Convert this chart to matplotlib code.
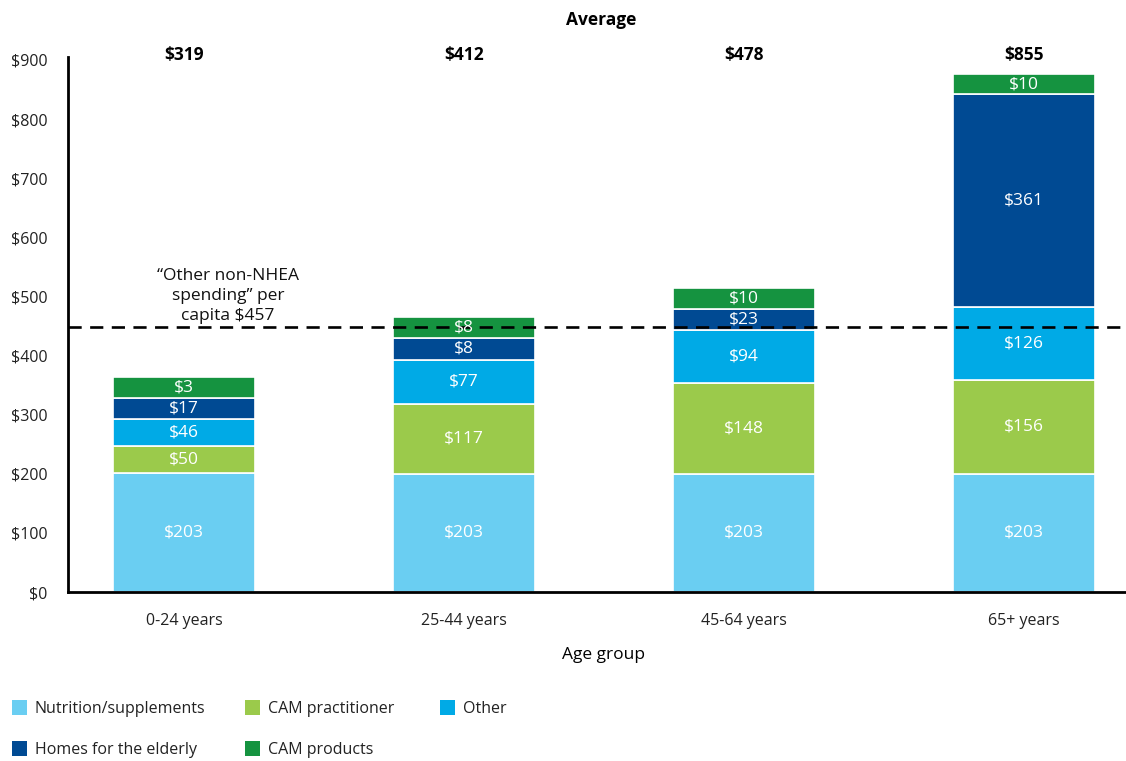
import matplotlib
matplotlib.use("Agg")
import matplotlib.pyplot as plt
from matplotlib.patches import Rectangle
import numpy as np

plt.rcParams['font.family'] = ['Open Sans', 'DejaVu Sans']

categories = ["0-24 years", "25-44 years", "45-64 years", "65+ years"]
averages = ["$319", "$412", "$478", "$855"]
series_names = ["Nutrition/supplements", "CAM practitioner", "Other",
                "Homes for the elderly", "CAM products"]
colors = ["#6ACEF2", "#9BCA4B", "#00AAE6", "#004A93", "#159340"]

# value labels printed in each segment
nutrition_lbl = [203, 203, 203, 203]
practitioner_lbl = [50, 117, 148, 156]
other_lbl = [46, 77, 94, 126]
homes_lbl = [17, 8, 23, 361]
products_lbl = [3, 8, 10, 10]

# segment heights as drawn in the chart
nutrition_h = [201, 200, 200, 200]
practitioner_h = [46, 118, 153, 159]
other_h = [46, 75, 90, 123]
homes_h = [36, 37, 36, 360]
products_h = [35, 35, 36, 34]

ref_line = 449
ref_text = "\u201cOther non-NHEA\nspending\u201d per\ncapita $457"

yticks = [0, 100, 200, 300, 400, 500, 600, 700, 800, 900]

W, H = 1126, 761
fig = plt.figure(figsize=(W / 100, H / 100), dpi=100)

def fx(px):
    return px / W

def fy(py):
    return 1 - py / H

ax = fig.add_axes([fx(68), fy(592), fx(1126) - fx(68), fy(57) - fy(592)])

x = np.arange(len(categories))
heights = [nutrition_h, practitioner_h, other_h, homes_h, products_h]
labels = [nutrition_lbl, practitioner_lbl, other_lbl, homes_lbl, products_lbl]
bottom = np.zeros(len(categories))
for h, lb, c in zip(heights, labels, colors):
    h = np.array(h, dtype=float)
    ax.bar(x, h, width=0.507, bottom=bottom, color=c,
           edgecolor="white", linewidth=1.2, zorder=2)
    for xi, b, hi, v in zip(x, bottom, h, lb):
        ax.text(xi, b + hi / 2, f"${v}", ha="center", va="center",
                color="white", fontsize=12.5, zorder=5)
    bottom += h

ax.set_xlim(-0.414, 3.364)
ax.set_ylim(0, 905)
ax.set_yticks(yticks)
ax.set_yticklabels([f"${v}" for v in yticks], fontsize=11.5, color="#222222")
ax.set_xticks(x)
ax.set_xticklabels(categories, fontsize=11.5, color="#222222")
ax.tick_params(axis="both", length=0)
ax.tick_params(axis="y", pad=15)
ax.tick_params(axis="x", pad=15)
for s in ["top", "right"]:
    ax.spines[s].set_visible(False)
for s in ["left", "bottom"]:
    ax.spines[s].set_linewidth(2)
    ax.spines[s].set_color("black")

ax.axhline(ref_line, color="black", linewidth=1.9, dashes=(5, 3.2), zorder=4)
fig.text(fx(228), fy(296), ref_text, ha="center", va="center",
         fontsize=12.5, linespacing=1.3, color="#111111", zorder=6)

# averages above the bars
for xi, a in zip(x, averages):
    px = ax.transData.transform((xi, 0))[0]
    fig.text(px / W, fy(55), a, ha="center", va="center",
             fontsize=12.5, fontweight="bold", color="black")
fig.text(fx(601), fy(20), "Average", ha="center", va="center",
         fontsize=12.5, fontweight="bold", color="black")
fig.text(fx(603), fy(655), "Age group", ha="center", va="center",
         fontsize=12.5, color="black")

# legend
leg_pos = [(12, 708), (245, 708), (440, 708), (12, 749), (245, 749)]
for (lx, ly), name, c in zip(leg_pos, series_names, colors):
    fig.add_artist(Rectangle((fx(lx), fy(ly + 7)), 15 / W, 15 / H,
                             transform=fig.transFigure, color=c, lw=0))
    fig.text(fx(lx + 23), fy(ly + 1), name, ha="left", va="center",
             fontsize=11.5, color="#222222")

fig.savefig("out.png", dpi=100)
